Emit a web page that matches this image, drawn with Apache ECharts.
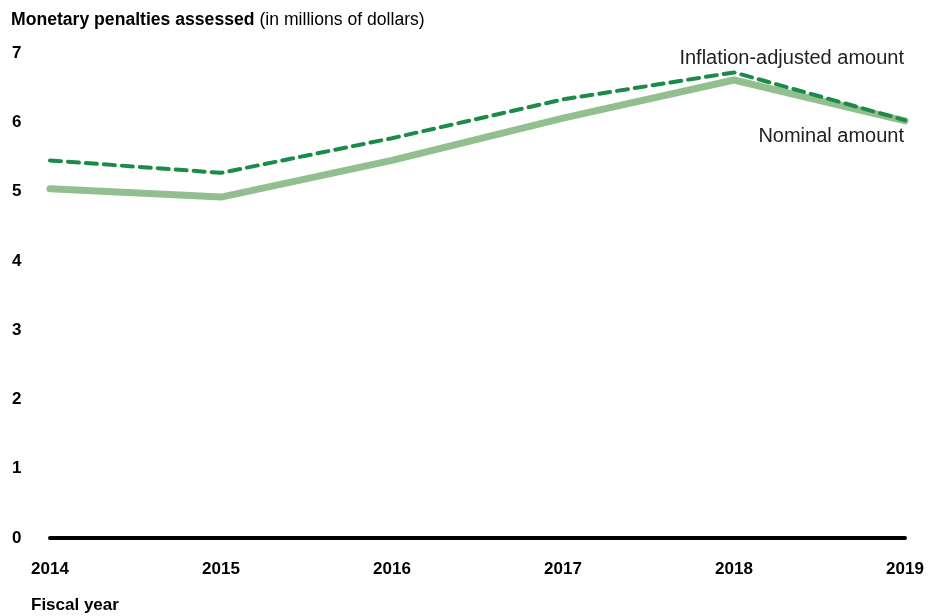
<!DOCTYPE html>
<html>
<head>
<meta charset="utf-8">
<script src="https://cdn.jsdelivr.net/npm/echarts@6/dist/echarts.min.js"></script>
<style>
  html, body { margin: 0; padding: 0; background: #fff; }
  #chart { width: 939px; height: 616px; }
</style>
</head>
<body>
<div id="chart"></div>
<script>
// Fiscal years and penalty totals (millions of dollars)
const years = ['2014', '2015', '2016', '2017', '2018', '2019'];
const nominal = [5.04, 4.92, 5.45, 6.06, 6.61, 6.02];
const inflationAdjusted = [5.45, 5.27, 5.77, 6.33, 6.72, 6.03];
const yTicks = [0, 1, 2, 3, 4, 5, 6, 7];

const font = '"Liberation Sans", Arial, sans-serif';
const chart = echarts.init(document.getElementById('chart'));

chart.setOption({
  animation: false,
  textStyle: { fontFamily: font },
  title: {
    text: '{b|Monetary penalties assessed} {n|(in millions of dollars)}',
    left: 6, top: 6,
    textStyle: {
      fontWeight: 'normal',
      rich: {
        b: { fontFamily: font, fontWeight: 'bold', fontSize: 17.6, color: '#000' },
        n: { fontFamily: font, fontWeight: 'normal', fontSize: 17.6, color: '#000' }
      }
    }
  },
  grid: { left: 50, right: 34, top: 53, bottom: 78 },
  xAxis: {
    type: 'category',
    data: years,
    boundaryGap: false,
    name: 'Fiscal year',
    nameLocation: 'start',
    nameGap: 0,
    nameTextStyle: {
      fontFamily: font, fontWeight: 'bold', fontSize: 17, color: '#000',
      align: 'left', verticalAlign: 'top', padding: [59, 0, 0, -19]
    },
    axisLine: { lineStyle: { color: '#000', width: 4 } },
    axisTick: { show: false },
    axisLabel: { fontFamily: font, fontWeight: 'bold', fontSize: 17, color: '#000', margin: 23 },
    splitLine: { show: false }
  },
  yAxis: {
    type: 'value',
    min: yTicks[0],
    max: yTicks[yTicks.length - 1],
    interval: 1,
    axisLine: { show: false },
    axisTick: { show: false },
    splitLine: { show: false },
    axisLabel: { fontFamily: font, fontWeight: 'bold', fontSize: 17, color: '#000', margin: 38, align: 'left' }
  },
  series: [
    {
      name: 'Nominal amount',
      type: 'line',
      data: nominal,
      symbol: 'none',
      z: 2,
      lineStyle: { color: '#93bf90', width: 7, cap: 'round', join: 'round' },
      endLabel: {
        show: true,
        formatter: 'Nominal amount',
        fontFamily: font, fontSize: 20, color: '#222',
        align: 'right', verticalAlign: 'middle',
        offset: [-9, 16]
      }
    },
    {
      name: 'Inflation-adjusted amount',
      type: 'line',
      data: inflationAdjusted,
      symbol: 'none',
      z: 3,
      lineStyle: { color: '#1c8a48', width: 4, type: [11, 7], cap: 'round' },
      endLabel: {
        show: true,
        formatter: 'Inflation-adjusted amount',
        fontFamily: font, fontSize: 20, color: '#222',
        align: 'right', verticalAlign: 'middle',
        offset: [-9, -62]
      }
    }
  ]
});
</script>
</body>
</html>
